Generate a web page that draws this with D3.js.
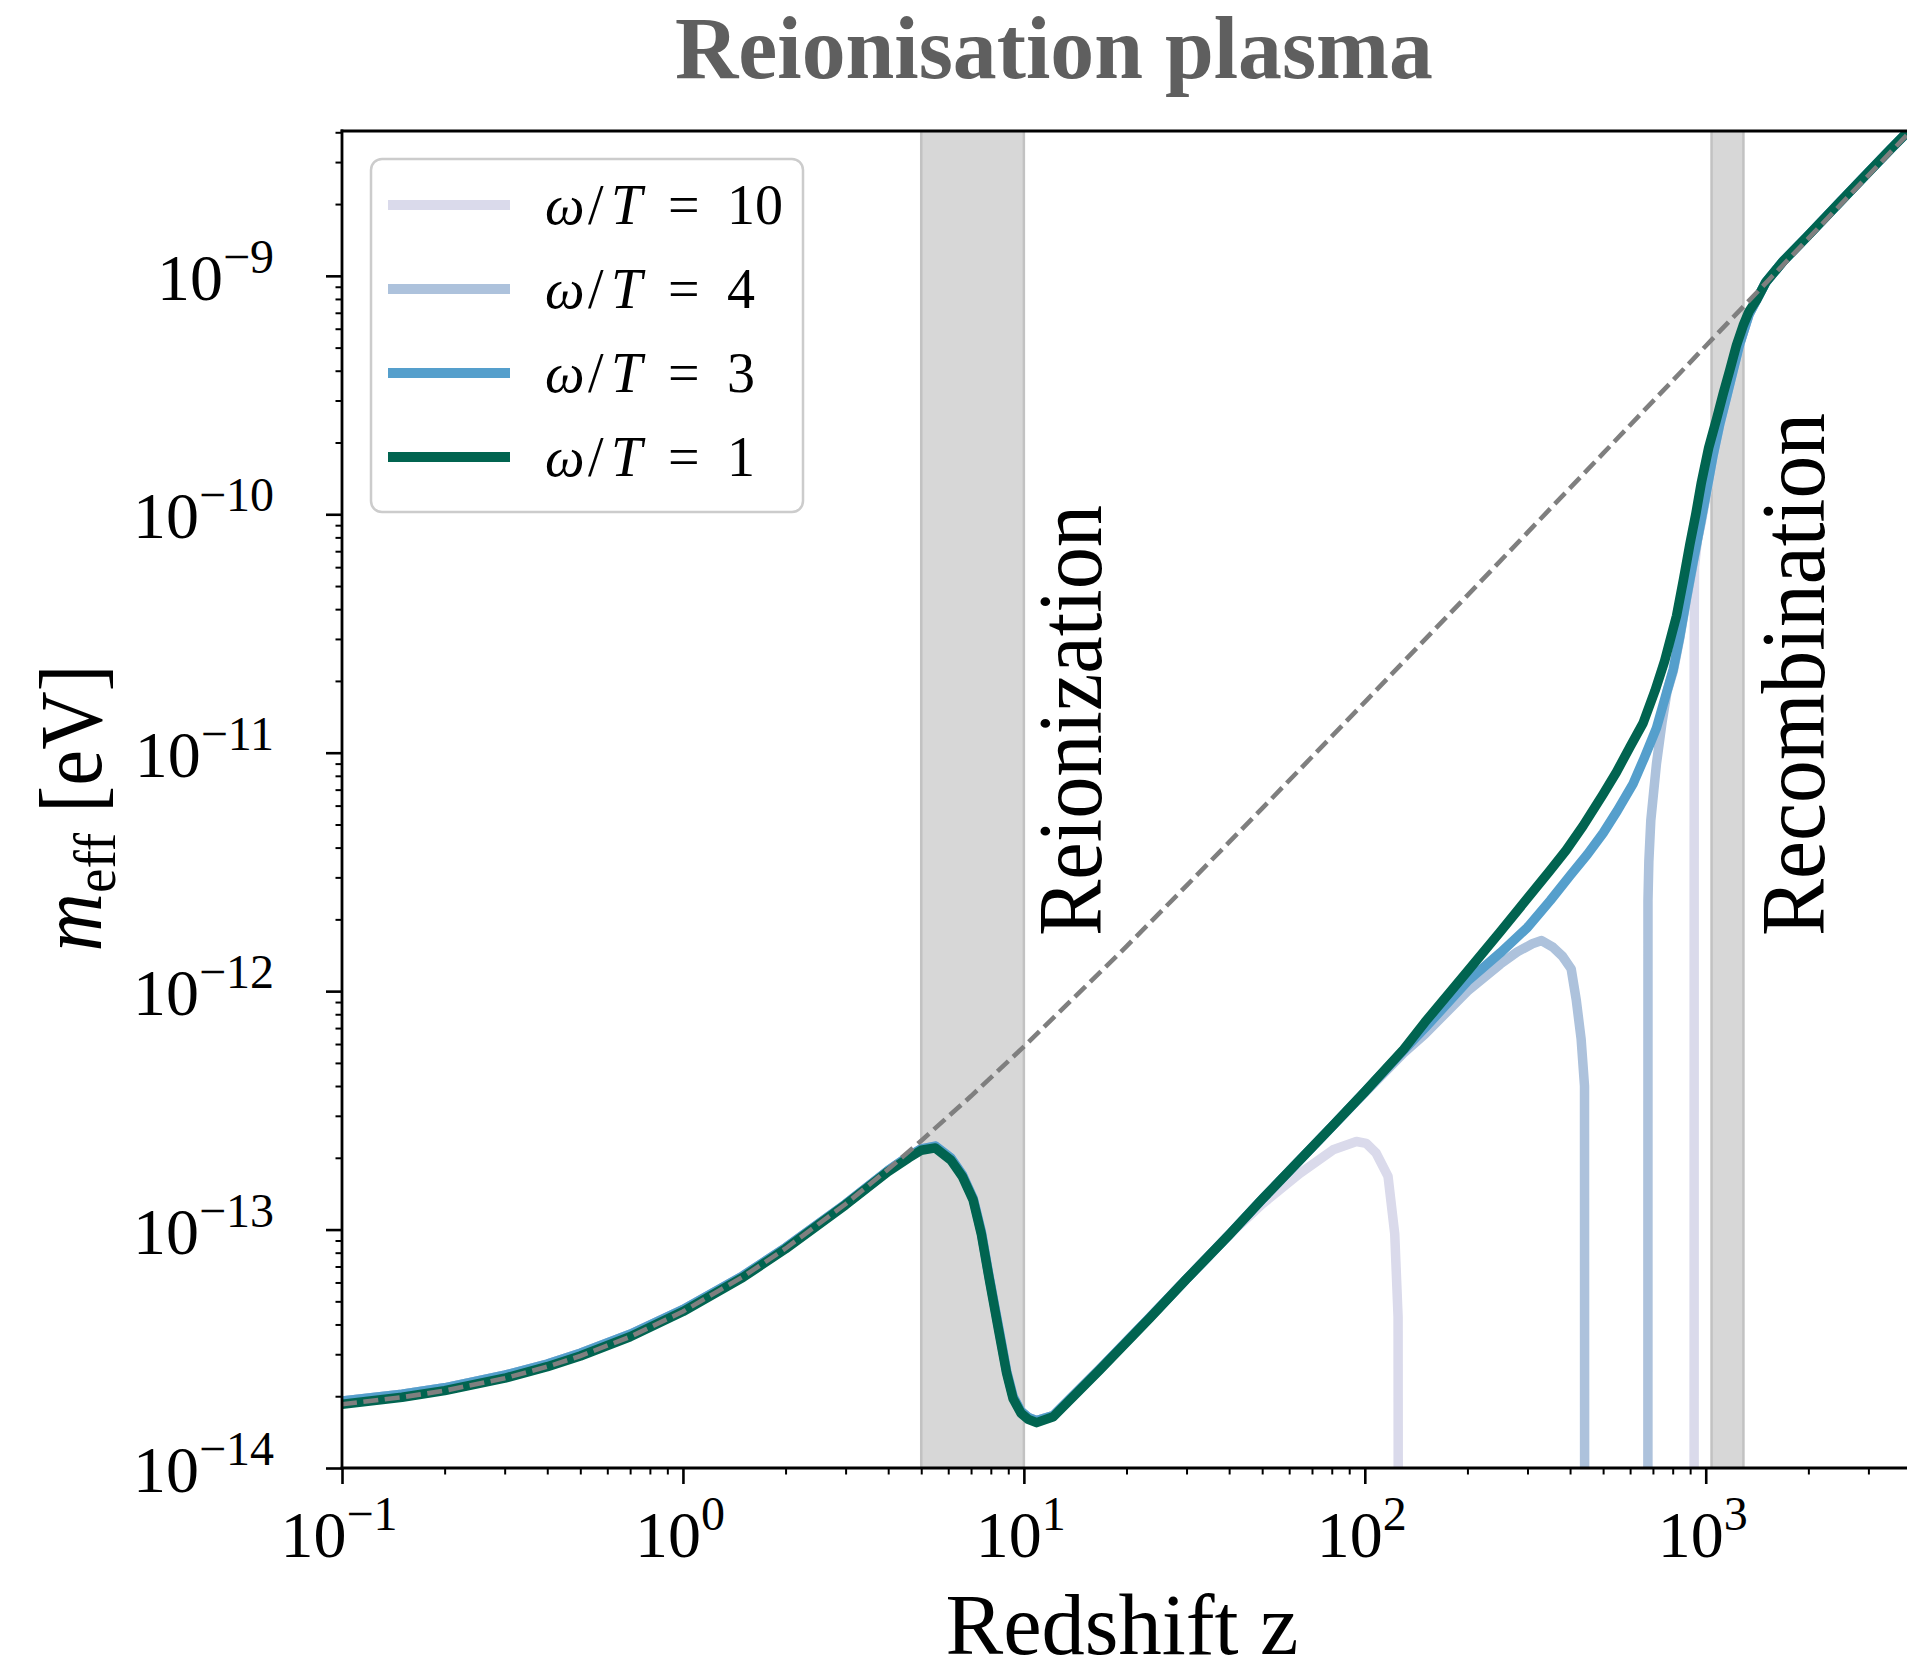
<!DOCTYPE html>
<html>
<head>
<meta charset="utf-8">
<script src="https://cdn.jsdelivr.net/npm/d3@7/dist/d3.min.js"></script>
<style>
  body { margin: 0; background: #fff; }
  text { font-family: "Liberation Serif", "Times New Roman", serif; fill: #000; }
</style>
</head>
<body>
<div id="chart"></div>
<script>
// values (z = redshift, m = m_eff in eV)

const legendLabels = ["10", "4", "3", "1"];            // omega / T
const lineColors   = ["#dadaeb", "#adc2dc", "#559fcc", "#016450"];

// fully ionised reference, dashed grey
const zDash = [0.1, 0.15, 0.2, 0.3, 0.4, 0.5, 0.7, 1, 1.5, 2, 3, 4, 5, 7, 10, 20, 30, 50, 100, 200, 500, 1000, 2000, 4000];
const mDash = [1.85e-14, 1.98e-14, 2.11e-14, 2.38e-14, 2.66e-14, 2.95e-14, 3.55e-14, 4.53e-14, 6.34e-14, 8.33e-14, 1.28e-13, 1.79e-13,
               2.36e-13, 3.63e-13, 5.85e-13, 1.54e-12, 2.77e-12, 5.84e-12, 1.63e-11, 4.57e-11, 1.8e-10, 5.08e-10, 1.435e-9, 4.06e-9];

// low-z part (bump + reionisation dip) is common to every curve
const zLow = [0.1, 0.15, 0.2, 0.3, 0.4, 0.5, 0.7, 1, 1.5, 2, 3, 4, 4.6, 5, 5.5, 6.1, 6.6, 7.1, 7.5, 7.9, 8.4, 8.9, 9.3, 9.8, 10.3, 10.9, 12.2, 16.7, 23.4, 30, 40];
const mLowOne = [1.85e-14, 1.98e-14, 2.11e-14, 2.38e-14, 2.66e-14, 2.95e-14, 3.55e-14, 4.53e-14, 6.3e-14, 8.3e-14, 1.27e-13, 1.75e-13, 2.0e-13, 2.15e-13,
                 2.2e-13, 1.96e-13, 1.67e-13, 1.33e-13, 9.6e-14, 6.3e-14, 3.9e-14, 2.5e-14, 1.95e-14, 1.7e-14, 1.6e-14, 1.55e-14, 1.64e-14, 2.58e-14, 4.25e-14, 6.2e-14, 9.5e-14];
// omega/T = 3, 4, 10 sit a hair above the omega/T = 1 line here
const mLowRest = [1.91e-14, 2.04e-14, 2.17e-14, 2.45e-14, 2.73e-14, 3.03e-14, 3.64e-14, 4.62e-14, 6.4e-14, 8.4e-14, 1.28e-13, 1.77e-13, 2.03e-13, 2.18e-13,
                  2.24e-13, 2.0e-13, 1.7e-13, 1.35e-13, 9.8e-14, 6.4e-14, 4.0e-14, 2.55e-14, 1.99e-14, 1.73e-14, 1.63e-14, 1.58e-14, 1.66e-14, 2.6e-14, 4.28e-14, 6.2e-14, 9.5e-14];

// after recombination all curves collapse onto one
const zHigh = [1408, 1500, 1685, 2000, 2500, 3000, 3500, 4000];
const mHigh = [7.9e-10, 9.4e-10, 1.15e-9, 1.48e-9, 2.07e-9, 2.72e-9, 3.42e-9, 4.15e-9];

// omega/T = 1
const zOne = [50, 80, 100, 130, 150, 200, 250, 300, 349, 390, 437, 500, 547, 600, 655, 710, 758, 821, 860, 898, 935, 971, 1020, 1075, 1125, 1176, 1230, 1287, 1340];
const mOne = [1.34e-13, 2.7e-13, 3.78e-13, 5.7e-13, 7.4e-13, 1.21e-12, 1.78e-12, 2.45e-12, 3.2e-12, 3.91e-12, 4.94e-12, 6.7e-12, 8.28e-12, 1.06e-11, 1.33e-11,
              1.82e-11, 2.43e-11, 3.75e-11, 5.3e-11, 7.47e-11, 1.0e-10, 1.36e-10, 1.9e-10, 2.5e-10, 3.2e-10, 4.02e-10, 5.1e-10, 6.18e-10, 7.1e-10];

// omega/T = 3
const zThree = [50, 80, 100, 130, 150, 200, 250, 300, 350, 400, 450, 500, 550, 612, 660, 717, 760, 803, 840, 878, 920, 961, 1000, 1051, 1100, 1151, 1200, 1259, 1340];
const mThree = [1.34e-13, 2.7e-13, 3.78e-13, 5.65e-13, 7.0e-13, 1.1e-12, 1.45e-12, 1.85e-12, 2.4e-12, 3.05e-12, 3.75e-12, 4.6e-12, 5.7e-12, 7.4e-12, 9.5e-12,
                1.27e-11, 1.7e-11, 2.24e-11, 3.1e-11, 4.46e-11, 6.4e-11, 8.87e-11, 1.2e-10, 1.77e-10, 2.4e-10, 3.1e-10, 3.95e-10, 5.2e-10, 6.9e-10];

// omega/T = 4 (drops out between ~440 and ~680)
const zFour = [50, 80, 100, 130, 150, 200, 250, 280, 310, 330, 356, 380, 403, 417, 431, 441, 442, 676, 677, 681, 690, 717, 745, 770, 803, 840, 878,
               920, 961, 1000, 1051, 1100, 1151, 1200, 1259, 1340];
const mFour = [1.34e-13, 2.7e-13, 3.75e-13, 5.5e-13, 6.6e-13, 1.0e-12, 1.3e-12, 1.46e-12, 1.58e-12, 1.63e-12, 1.53e-12, 1.4e-12, 1.24e-12, 9.2e-13, 6.3e-13,
               4.0e-13, 1e-18, 1e-18, 2.4e-12, 3.5e-12, 5.2e-12, 9.0e-12, 1.35e-11, 1.8e-11, 2.2e-11, 3.05e-11, 4.4e-11, 6.3e-11, 8.8e-11, 1.19e-10,
               1.76e-10, 2.38e-10, 3.1e-10, 3.95e-10, 5.2e-10, 6.9e-10];

// omega/T = 10 (drops out between ~125 and ~925)
const zTen = [50, 64.5, 80.7, 94.5, 101, 108, 117, 122.4, 125.2, 126, 924, 925, 927, 945, 970, 1000, 1051, 1100, 1151, 1200, 1259, 1340];
const mTen = [1.28e-13, 1.72e-13, 2.16e-13, 2.34e-13, 2.3e-13, 2.09e-13, 1.67e-13, 9.6e-14, 4.3e-14, 1e-18, 1e-18, 3e-11, 6.0e-11, 7.8e-11, 9.2e-11,
              1.17e-10, 1.74e-10, 2.36e-10, 3.08e-10, 3.93e-10, 5.2e-10, 6.9e-10];

// shaded epochs
const bandEdges = [[5, 10], [1040, 1290]];
const bandNames = ["Reionization", "Recombination"];

const xMajorExp = [-1, 0, 1, 2, 3];
const yMajorExp = [-14, -13, -12, -11, -10, -9];


// ---- build it ----
const width = 1907, height = 1674;
const plot = {left: 342, right: 1911, top: 131, bottom: 1468};

const svg = d3.select('#chart').append('svg')
              .attr('width', width)
              .attr('height', height);

const x = d3.scaleLog().domain([0.1, 4000]).range([plot.left, plot.right]);
const y = d3.scaleLog().domain([1e-14, 4.05e-9]).range([plot.bottom, plot.top]);

svg.append('defs').append('clipPath').attr('id', 'clip')
   .append('rect')
   .attr('x', plot.left).attr('y', plot.top)
   .attr('width', plot.right - plot.left).attr('height', plot.bottom - plot.top);

const zip = (zs, ms) => zs.map((z, i) => [z, ms[i]]);

const series = [
  {z: zLow.concat(zTen, zHigh),   m: mLowRest.concat(mTen, mHigh)},
  {z: zLow.concat(zFour, zHigh),  m: mLowRest.concat(mFour, mHigh)},
  {z: zLow.concat(zThree, zHigh), m: mLowRest.concat(mThree, mHigh)},
  {z: zLow.concat(zOne, zHigh),   m: mLowOne.concat(mOne, mHigh)}
];

// grey bands, behind everything
const inner = svg.append('g').attr('clip-path', 'url(#clip)');

inner.selectAll('rect.band')
     .data(bandEdges)
     .enter()
     .append('rect')
     .attr('class', 'band')
     .attr('x', d => x(d[0]))
     .attr('width', d => x(d[1]) - x(d[0]))
     .attr('y', plot.top - 5)
     .attr('height', plot.bottom - plot.top + 10)
     .attr('fill', '#d7d7d7')
     .attr('stroke', '#c2c2c2')
     .attr('stroke-width', 2.5);

const line = d3.line()
               .x(d => x(d[0]))
               .y(d => y(d[1]));

inner.selectAll('path.curve')
     .data(series)
     .enter()
     .append('path')
     .attr('class', 'curve')
     .attr('d', d => line(zip(d.z, d.m)))
     .attr('fill', 'none')
     .attr('stroke', (d, i) => lineColors[i])
     .attr('stroke-width', 9.5)
     .attr('stroke-linejoin', 'round');

inner.append('path')
     .attr('d', line(zip(zDash, mDash)))
     .attr('fill', 'none')
     .attr('stroke', '#7f7f7f')
     .attr('stroke-width', 4.6)
     .attr('stroke-dasharray', '15,6.5');

// epoch labels, rotated, reading upwards
svg.selectAll('text.epoch')
   .data(bandNames)
   .enter()
   .append('text')
   .attr('class', 'epoch')
   .attr('transform', (d, i) => `translate(${i === 0 ? 1101 : 1824}, 936) rotate(-90)`)
   .attr('font-size', 90)
   .attr('textLength', (d, i) => i === 0 ? 431 : 523)
   .attr('lengthAdjust', 'spacingAndGlyphs')
   .text(d => d);

// ---- axes ----
const minors = (lo, hi, max) => {
  let out = [];
  for (let e = lo; e <= hi; e++)
    for (let k = 2; k <= 9; k++) {
      const v = k * Math.pow(10, e);
      if (v <= max) out.push(v);
    }
  return out;
};

const xAxisG = svg.append('g').attr('transform', `translate(0, ${plot.bottom})`);
xAxisG.call(d3.axisBottom(x).tickValues(minors(-1, 3, 4000)).tickSize(6.5).tickFormat(''))
      .call(g => g.selectAll('line').attr('stroke-width', 2));
const xMaj = svg.append('g').attr('transform', `translate(0, ${plot.bottom})`);
xMaj.call(d3.axisBottom(x).tickValues(xMajorExp.map(e => Math.pow(10, e))).tickSize(16).tickFormat(''))
    .call(g => g.selectAll('line').attr('stroke-width', 2.6));

const yAxisG = svg.append('g').attr('transform', `translate(${plot.left}, 0)`);
yAxisG.call(d3.axisLeft(y).tickValues(minors(-14, -9, 4.05e-9)).tickSize(6.5).tickFormat(''))
      .call(g => g.selectAll('line').attr('stroke-width', 2));
const yMaj = svg.append('g').attr('transform', `translate(${plot.left}, 0)`);
yMaj.call(d3.axisLeft(y).tickValues(yMajorExp.map(e => Math.pow(10, e))).tickSize(16).tickFormat(''))
    .call(g => g.selectAll('line').attr('stroke-width', 2.6));

svg.selectAll('.domain').remove();

const sup = e => (e < 0 ? '\u2212' + (-e) : '' + e);

// tick labels as 10^n with real superscripts
xMajorExp.forEach(e => {
  const t = svg.append('text')
               .attr('x', x(Math.pow(10, e)) - 3)
               .attr('y', 1557)
               .attr('text-anchor', 'middle')
               .attr('font-size', 66);
  t.append('tspan').text('10');
  t.append('tspan').attr('dy', -27).attr('font-size', 48).text(sup(e));
});

yMajorExp.forEach(e => {
  const t = svg.append('text')
               .attr('x', 274)
               .attr('y', y(Math.pow(10, e)) + 24)
               .attr('text-anchor', 'end')
               .attr('font-size', 66);
  t.append('tspan').text('10');
  t.append('tspan').attr('dy', -27).attr('font-size', 48).text(sup(e));
});

// spines (right one falls off the picture)
const spines = [
  [plot.left, plot.top, plot.left, plot.bottom],
  [plot.left, plot.bottom, width, plot.bottom],
  [plot.left, plot.top, width, plot.top]
];
svg.selectAll('line.spine')
   .data(spines)
   .enter()
   .append('line')
   .attr('class', 'spine')
   .attr('x1', d => d[0]).attr('y1', d => d[1])
   .attr('x2', d => d[2]).attr('y2', d => d[3])
   .attr('stroke', '#000')
   .attr('stroke-width', 2.8)
   .attr('stroke-linecap', 'square');

// axis titles
svg.append('text')
   .attr('x', 1122).attr('y', 1654)
   .attr('text-anchor', 'middle')
   .attr('font-size', 86)
   .attr('textLength', 353)
   .attr('lengthAdjust', 'spacingAndGlyphs')
   .text('Redshift z');

const yLab = svg.append('text')
                .attr('transform', 'translate(101, 808) rotate(-90)')
                .attr('text-anchor', 'middle')
                .attr('font-size', 88)
                .attr('textLength', 287)
                .attr('lengthAdjust', 'spacingAndGlyphs');
yLab.append('tspan').attr('font-style', 'italic').text('m');
yLab.append('tspan').attr('font-size', 60).attr('dy', 14).text('eff');
yLab.append('tspan').attr('dy', -14).text(' [eV]');

// title
svg.append('text')
   .attr('x', 1054).attr('y', 78)
   .attr('text-anchor', 'middle')
   .attr('font-size', 88)
   .attr('font-weight', 'bold')
   .attr('textLength', 758)
   .attr('lengthAdjust', 'spacingAndGlyphs')
   .style('fill', '#5f5f5f')
   .text('Reionisation plasma');

// ---- legend ----
const legend = svg.append('g');
legend.append('rect')
      .attr('x', 371).attr('y', 159)
      .attr('width', 432).attr('height', 353)
      .attr('rx', 11)
      .attr('fill', '#fff').attr('fill-opacity', 0.8)
      .attr('stroke', '#cccccc').attr('stroke-width', 2.5);

const rows = legend.selectAll('g.row')
                   .data(legendLabels)
                   .enter()
                   .append('g')
                   .attr('class', 'row')
                   .attr('transform', (d, i) => `translate(0, ${205 + i * 84})`);

rows.append('line')
    .attr('x1', 388).attr('x2', 510)
    .attr('stroke', (d, i) => lineColors[i])
    .attr('stroke-width', 10);

const lt = rows.append('text')
               .attr('y', 19)
               .attr('font-size', 56);
lt.append('tspan').attr('x', 545).attr('font-style', 'italic').text('\u03c9');
lt.append('tspan').attr('x', 588).text('/');
lt.append('tspan').attr('x', 611).attr('font-style', 'italic').text('T');
lt.append('tspan').attr('x', 668).text('=');
lt.append('tspan').attr('x', 727).text(d => d);
</script>
</body>
</html>
